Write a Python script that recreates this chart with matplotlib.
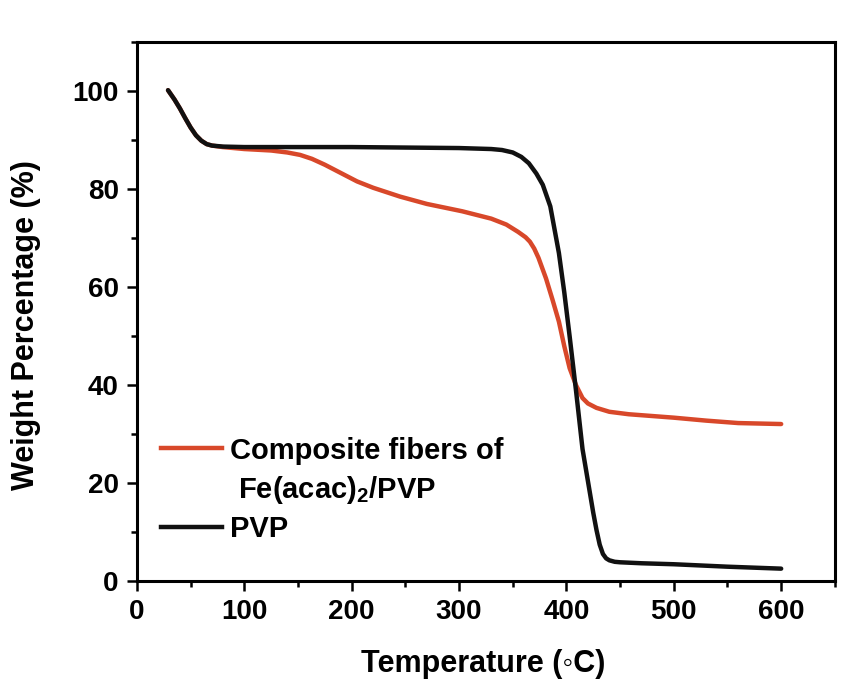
import matplotlib
matplotlib.use("Agg")
import matplotlib.pyplot as plt
from matplotlib.lines import Line2D
from matplotlib.ticker import MultipleLocator

# PVP (black)
pvp_T = [29, 35, 40, 45, 50, 55, 60, 65, 70, 80, 100, 150, 200, 250, 300, 330,
         340, 350, 358, 365, 372, 378, 385, 393, 398, 403, 409, 415, 420, 425,
         428, 431, 434, 437, 440, 445, 450, 470, 500, 550, 600]
pvp_W = [100.2, 98.3, 96.5, 94.5, 92.6, 91.0, 89.9, 89.2, 88.9, 88.7, 88.6, 88.6,
         88.6, 88.5, 88.4, 88.2, 88.0, 87.5, 86.6, 85.3, 83.2, 80.9, 76.5, 67.0,
         59.0, 50.0, 38.8, 27.0, 20.5, 14.0, 10.5, 7.5, 5.6, 4.7, 4.3, 4.0, 3.9,
         3.7, 3.5, 3.0, 2.6]

# Composite fibers of Fe(acac)2/PVP (red)
comp_T = [29, 35, 40, 45, 50, 55, 60, 65, 70, 80, 100, 125, 140, 152, 163, 175,
          190, 205, 220, 245, 270, 303, 330, 344, 355, 362, 366, 370, 374, 377,
          381, 387, 393, 398, 403, 409, 415, 420, 428, 440, 458, 500, 530, 560,
          600]
comp_W = [100.2, 98.3, 96.5, 94.5, 92.6, 91.0, 89.9, 89.2, 88.9, 88.6, 88.2, 87.9,
          87.5, 87.0, 86.2, 85.0, 83.3, 81.6, 80.3, 78.5, 77.0, 75.5, 74.0, 72.8,
          71.3, 70.2, 69.3, 67.9, 66.0, 64.2, 61.8, 57.5, 53.0, 48.0, 43.5, 40.0,
          37.4, 36.3, 35.4, 34.6, 34.1, 33.4, 32.8, 32.3, 32.1]

RED = "#d8482a"

plt.rcParams['font.family'] = ['Liberation Sans', 'DejaVu Sans']
plt.rcParams['font.weight'] = 'bold'
plt.rcParams['mathtext.fontset'] = 'custom'
plt.rcParams['mathtext.rm'] = 'Liberation Sans:bold'
plt.rcParams['mathtext.bf'] = 'Liberation Sans:bold'

fig = plt.figure(figsize=(8.45, 6.8), dpi=100)
ax = fig.add_axes([0.162, 0.145, 0.826, 0.793])

ax.plot(comp_T, comp_W, color=RED, lw=3.2, solid_capstyle='round')
ax.plot(pvp_T, pvp_W, color='#111111', lw=3.2, solid_capstyle='round')

ax.set_xlim(0, 650)
ax.set_ylim(0, 110)
ax.xaxis.set_major_locator(MultipleLocator(100))
ax.xaxis.set_minor_locator(MultipleLocator(50))
ax.yaxis.set_major_locator(MultipleLocator(20))
ax.yaxis.set_minor_locator(MultipleLocator(10))
ax.set_xticks(range(0, 601, 100))
ax.set_yticks(range(0, 101, 20))
ax.tick_params(which='major', direction='out', length=7, width=1.8,
               labelsize=20, pad=6)
ax.tick_params(which='minor', direction='out', length=4.5, width=1.8)
for lab in ax.get_xticklabels() + ax.get_yticklabels():
    lab.set_fontweight('bold')
for s in ax.spines.values():
    s.set_linewidth(2.2)

ax.set_xlabel('Temperature (\u25e6C)', fontsize=22, fontweight='bold')
ax.xaxis.set_label_coords(0.496, -0.125)
ax.set_ylabel('Weight Percentage (%)', fontsize=22, fontweight='bold')
ax.yaxis.set_label_coords(-0.138, 0.475)

handles = [Line2D([], [], color=RED, lw=3.2),
           Line2D([], [], color='none', lw=3.2),
           Line2D([], [], color='#111111', lw=3.2)]
labels = ['Composite fibers of', ' Fe(acac)$_\\mathbf{2}$/PVP', 'PVP']
ax.legend(handles, labels, loc='lower left', bbox_to_anchor=(-0.003, 0.022),
          frameon=False, prop={'size': 21, 'weight': 'bold'},
          handlelength=2.1, handletextpad=0.25, labelspacing=0.32)

fig.savefig('out.png', dpi=100)
